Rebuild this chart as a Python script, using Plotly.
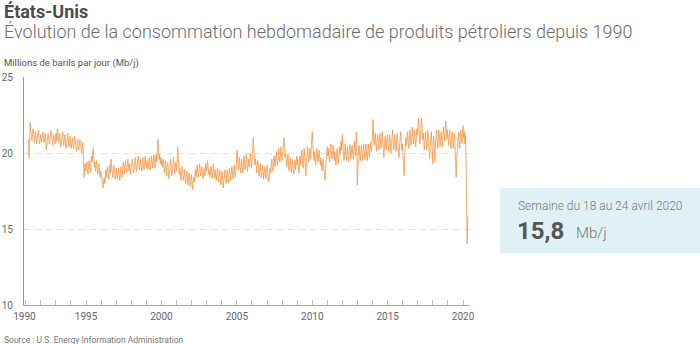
import pandas as pd
import plotly.graph_objects as go

# Weekly U.S. product supplied (Mb/j), sampled every two weeks, last week ending 2020-04-24
conso_1991_1995 = [
    20.9, 19.7, 21.0, 22.0, 21.5, 21.1, 20.8, 21.3, 21.6, 21.2, 20.7, 20.9, 21.4, 21.1, 20.6, 20.9, 21.3, 21.5, 21.0, 20.6, 20.8, 21.2, 21.0, 20.7,
    21.0, 21.4, 21.1, 20.7, 20.9, 21.3, 20.8, 20.2, 20.6, 21.0, 21.3, 21.0, 20.6, 20.8, 21.2, 21.5, 21.1, 20.7, 20.5, 20.9, 21.2, 20.9, 20.6, 21.0, 21.3, 20.8,
    21.6, 21.2, 20.7, 20.9, 21.3, 20.8, 20.4, 20.7, 21.1, 21.4, 20.9, 20.5, 20.8, 21.2, 20.7, 20.3, 20.6, 21.0, 21.3, 20.8, 20.4, 20.7, 21.1, 20.6, 20.3, 20.7,
    21.0, 20.6, 20.3, 20.7, 21.1, 20.8, 20.4, 20.1, 20.6, 20.9, 20.5, 20.2, 20.5, 20.9, 20.6, 20.2, 20.0, 20.4, 20.7, 20.1, 18.4, 18.9, 19.3, 18.8, 19.1, 19.4,
    18.9, 18.6, 19.2, 19.5, 19.0, 18.7, 19.3, 19.8, 19.4, 19.9, 20.3, 19.6, 19.1, 19.4, 18.8, 19.2, 19.5, 18.9, 18.6, 19.0, 19.3, 18.7, 18.4, 18.8, 18.5, 18.2,
]
conso_1996_2000 = [
    17.9, 17.7, 18.1, 18.4, 18.0, 18.5, 18.9, 18.4, 18.7, 19.1, 18.6, 18.3, 18.8, 19.2, 18.7, 19.6, 19.1, 18.6, 18.4, 18.9, 19.2, 18.7, 18.3, 18.6, 19.0, 18.5,
    18.3, 18.7, 19.0, 18.5, 18.2, 18.6, 19.1, 18.8, 18.4, 18.9, 19.4, 19.0, 18.6, 19.2, 19.5, 19.0, 18.7, 19.1, 19.6, 19.2, 18.8, 19.3, 18.9, 18.6, 19.2, 19.4,
    19.6, 19.1, 18.7, 19.0, 19.4, 19.7, 19.2, 18.8, 19.1, 19.5, 19.8, 19.3, 18.9, 19.2, 19.6, 19.1, 18.8, 19.3, 19.7, 19.2, 18.9, 19.4, 19.8, 19.3, 19.0, 19.5,
    19.2, 18.9, 19.4, 19.7, 19.2, 18.9, 19.3, 19.8, 19.4, 19.0, 19.5, 19.9, 19.3, 19.0, 19.6, 19.9, 19.4, 20.0, 20.9, 20.2, 19.6, 19.9, 19.3, 19.7, 19.2, 19.5,
    19.1, 19.6, 19.2, 18.7, 19.0, 19.5, 18.9, 18.5, 19.1, 19.4, 18.8, 18.3, 18.7, 19.2, 19.6, 19.0, 18.5, 18.9, 19.3, 19.7, 19.1, 18.6, 19.0, 19.4, 18.8, 19.2,
]
conso_2001_2005 = [
    20.4, 19.6, 19.1, 18.6, 19.0, 18.5, 18.2, 18.7, 19.1, 18.6, 18.2, 18.5, 18.9, 18.3, 18.0, 18.4, 18.8, 18.3, 17.9, 18.4, 18.7, 18.2, 17.8, 18.3, 18.6, 18.1,
    17.6, 18.0, 18.4, 18.1, 18.6, 18.9, 18.4, 18.8, 19.2, 18.7, 18.4, 18.8, 19.3, 18.9, 18.5, 18.8, 19.1, 18.6, 18.3, 18.7, 19.0, 18.5, 18.9, 19.3, 18.8, 19.1,
    19.5, 19.0, 18.6, 18.9, 18.4, 18.8, 19.1, 18.6, 18.3, 18.8, 19.3, 18.7, 18.4, 18.9, 18.5, 18.2, 18.6, 19.0, 18.4, 18.1, 18.6, 18.9, 18.3, 17.9, 18.4, 18.8,
    18.2, 17.7, 18.1, 18.6, 18.9, 18.4, 18.0, 18.5, 18.9, 18.3, 18.0, 18.6, 19.0, 18.5, 18.2, 18.7, 19.1, 18.6, 18.3, 18.8, 19.2, 18.7, 18.4, 18.9, 19.4, 20.2,
    19.4, 18.9, 19.3, 19.7, 19.1, 18.7, 19.2, 19.6, 19.0, 18.7, 19.3, 19.8, 19.2, 18.9, 19.4, 19.9, 19.3, 18.8, 19.2, 19.6, 19.1, 19.5, 20.0, 19.4, 19.0, 19.6,
]
conso_2006_2010 = [
    20.3, 21.0, 20.2, 19.6, 19.2, 19.6, 19.0, 18.7, 19.2, 19.5, 18.9, 18.5, 18.9, 19.3, 18.8, 18.4, 18.7, 19.2, 18.8, 18.3, 18.7, 19.1, 18.6, 18.3, 18.8, 19.2,
    18.7, 18.4, 18.1, 18.6, 19.0, 18.7, 19.2, 19.6, 19.0, 18.8, 19.4, 19.8, 19.3, 19.1, 19.7, 20.1, 19.5, 19.2, 19.7, 20.3, 19.7, 19.4, 19.9, 20.4, 19.8, 19.5,
    20.1, 20.6, 21.0, 20.3, 19.7, 20.0, 19.4, 19.1, 19.6, 19.9, 19.2, 18.8, 19.3, 19.7, 19.1, 18.7, 19.2, 19.6, 19.0, 18.6, 19.1, 19.5, 18.9, 19.3, 19.8, 19.2,
    19.6, 19.1, 18.7, 19.3, 19.8, 19.2, 19.6, 20.2, 19.5, 19.0, 19.5, 20.3, 19.7, 19.2, 18.5, 19.3, 19.9, 20.4, 19.8, 19.4, 19.9, 20.3, 19.6, 20.1, 20.6, 21.4,
    20.6, 20.0, 19.5, 20.1, 19.6, 19.2, 19.7, 20.3, 19.8, 19.4, 19.9, 20.2, 19.6, 19.2, 19.7, 19.1, 18.8, 19.3, 19.6, 19.0, 18.7, 18.2, 18.9, 19.5, 20.0, 20.4,
]
conso_2011_2015 = [
    19.8, 20.3, 19.7, 19.4, 20.0, 20.6, 20.1, 19.6, 19.9, 20.5, 20.0, 19.5, 20.1, 19.7, 19.2, 19.8, 20.3, 19.7, 19.3, 19.8, 20.4, 19.9, 20.5, 20.8, 20.2, 21.2,
    20.5, 20.0, 19.5, 20.1, 20.6, 20.0, 19.5, 19.9, 20.4, 19.8, 19.4, 20.0, 20.6, 20.1, 19.6, 20.2, 20.5, 19.9, 19.6, 20.2, 20.8, 20.2, 19.8, 21.4, 20.6, 17.9,
    19.5, 20.1, 20.5, 19.9, 19.5, 20.0, 20.5, 20.0, 19.5, 20.1, 20.6, 20.0, 19.6, 20.2, 20.6, 19.9, 19.5, 20.1, 20.6, 20.1, 19.7, 20.3, 20.7, 20.1, 20.5, 21.0,
    22.2, 21.2, 20.5, 20.9, 21.3, 20.6, 20.1, 20.7, 21.2, 20.7, 20.2, 20.8, 21.3, 20.8, 20.3, 20.9, 21.4, 20.8, 20.2, 19.7, 20.5, 21.1, 20.6, 20.2, 20.8, 21.2,
    20.6, 20.1, 20.7, 21.2, 20.6, 20.0, 20.5, 21.1, 21.5, 20.8, 20.2, 20.7, 21.2, 20.7, 20.1, 20.6, 21.3, 20.8, 20.2, 19.7, 20.4, 21.0, 21.4, 20.7, 20.2, 20.6,
]
conso_2016_2020 = [
    20.1, 19.6, 18.5, 19.9, 20.6, 21.0, 20.5, 20.9, 21.4, 20.8, 20.3, 20.9, 21.5, 21.0, 20.5, 21.1, 21.7, 21.2, 20.6, 21.0, 21.5, 20.9, 20.4, 21.0, 21.6, 21.2,
    21.7, 22.3, 21.5, 20.6, 21.0, 21.5, 22.3, 21.6, 20.9, 21.3, 20.6, 20.2, 20.9, 21.4, 20.8, 20.2, 20.9, 21.5, 20.9, 20.2, 19.6, 20.4, 21.1, 21.4, 20.5, 19.3,
    20.4, 21.1, 20.6, 19.4, 20.5, 21.2, 21.5, 20.8, 20.3, 20.9, 21.5, 21.0, 20.4, 20.8, 21.4, 20.9, 20.4, 21.1, 21.7, 21.3, 20.8, 21.4, 22.1, 21.5, 20.9, 21.5,
    21.0, 20.5, 21.1, 21.5, 20.8, 20.3, 20.9, 21.4, 20.9, 20.3, 20.8, 21.3, 20.5, 19.5, 18.4, 19.6, 20.6, 21.0, 21.4, 20.7, 20.3, 21.0, 21.5, 21.1, 20.6, 21.3,
    21.8, 21.0, 21.4, 20.6, 21.2, 19.8, 17.2, 14.0, 15.8,
]

conso = (conso_1991_1995 + conso_1996_2000 + conso_2001_2005
         + conso_2006_2010 + conso_2011_2015 + conso_2016_2020)
semaines = pd.date_range(end="2020-04-24", periods=len(conso), freq="14D")

annees_ticks = ["1990-12-01"] + [f"{a}-01-01" for a in range(1991, 2021)]
labels_ticks = ["1990"] + [str(a) if a % 5 == 0 else "" for a in range(1991, 2021)]

derniere_semaine = "Semaine du 18 au 24 avril 2020"
derniere_valeur = "15,8"

FONT = "Roboto"
L, R, T, B = 24, 230, 77, 39
W, H = 700, 344
PW, PH = W - L - R, H - T - B


def px(x):
    return (x - L) / PW


def py(y):
    return (H - B - y) / PH


fig = go.Figure()
fig.add_trace(go.Scatter(
    x=semaines, y=conso, mode="lines",
    line=dict(color="#f08526", width=0.8),
    opacity=0.85,
    hoverinfo="skip", showlegend=False,
))

fig.update_layout(
    width=W, height=H,
    margin=dict(l=L, r=R, t=T, b=B, pad=0, autoexpand=False),
    paper_bgcolor="white", plot_bgcolor="white",
    font=dict(family=FONT, color="#666666"),
    xaxis=dict(
        automargin=False,
        range=["1990-11-20", "2020-06-18"],
        tickmode="array", tickvals=annees_ticks, ticktext=labels_ticks,
        ticks="inside", ticklen=5, tickcolor="#bbbbbb", tickwidth=1,
        showline=True, linecolor="#aaaaaa", linewidth=1,
        showgrid=False, zeroline=False,
        tickfont=dict(size=10, color="#666666"),
        ticklabelstandoff=2,
    ),
    yaxis=dict(
        automargin=False,
        range=[10, 25], tickvals=[10, 15, 20, 25],
        showline=True, linecolor="#999999", linewidth=1,
        showgrid=True, gridcolor="#e3e3e3", griddash="6px,5px", gridwidth=1,
        zeroline=False, ticks="",
        tickfont=dict(size=10, color="#666666"),
        ticklabelstandoff=8,
    ),
)

fig.add_shape(type="rect", xref="paper", yref="paper",
              x0=px(500), x1=px(700), y0=py(253), y1=py(188),
              fillcolor="#dff1f5", line=dict(width=0), layer="below")

ann = [
    dict(text="<b>États-Unis</b>", x=px(2), y=py(11.5), size=18, color="#4d4d4d", weight=None),
    dict(text="Évolution de la consommation hebdomadaire de produits pétroliers depuis 1990",
         x=px(2), y=py(32), size=18, color="#6b6b6b", weight=300),
    dict(text="Millions de barils par jour (Mb/j)", x=px(2), y=py(63), size=9.5, color="#555555", weight=None),
    dict(text="Source : U.S. Energy Information Administration", x=px(2), y=py(340), size=8.5, color="#777777", weight=None),
    dict(text=derniere_semaine, x=px(516), y=py(205.5), size=12, color="#777777", weight=300),
    dict(text=f"<b>{derniere_valeur}</b>", x=px(515), y=py(231), size=24, color="#555555", weight=None),
    dict(text="Mb/j", x=px(574), y=py(232.5), size=15, color="#777777", weight=300),
]
for a in ann:
    f = dict(family=FONT, size=a["size"], color=a["color"])
    if a["weight"]:
        f["weight"] = a["weight"]
    fig.add_annotation(text=a["text"], x=a["x"], y=a["y"], xref="paper", yref="paper",
                       xanchor="left", yanchor="middle", showarrow=False, font=f)

fig.write_html("out.html")
